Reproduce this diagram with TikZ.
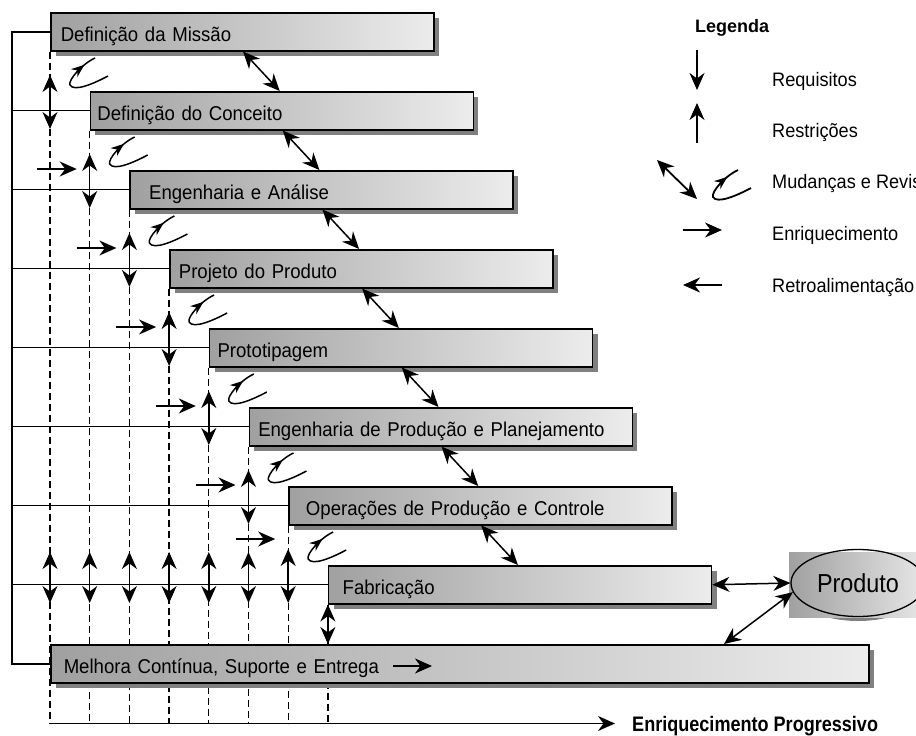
\documentclass[tikz,border=0pt]{standalone}
\usepackage{fontspec}
\setmainfont{Liberation Sans}
\newfontfamily\stagefont[FakeStretch=0.93]{Liberation Sans}
\newfontfamily\prodfont[FakeStretch=0.9]{Liberation Sans}
\newfontfamily\axisfont[FakeStretch=0.86]{Liberation Sans}
\usetikzlibrary{arrows.meta,shadows,decorations.markings,shapes.geometric}

\definecolor{boxdark}{RGB}{160,160,160}
\definecolor{boxlight}{RGB}{236,236,236}
\definecolor{shadowgray}{RGB}{128,128,128}

\pgfdeclarelayer{background}
\pgfsetlayers{background,main}

\tikzset{
  head/.tip={Stealth[length=17pt,width=15pt,inset=5.5pt]},
  stagebox/.style={draw, line width=1.5pt, anchor=north west, align=left,
    minimum height=38pt, inner ysep=0pt, text height=19pt, text depth=0pt,
    left color=boxdark, right color=boxlight,
    drop shadow={shadow xshift=5pt, shadow yshift=-5pt, fill=shadowgray, opacity=1},
    font=\stagefont\fontsize{20pt}{24pt}\selectfont},
  link/.style={line width=1.3pt},
  frame/.style={line width=1.8pt},
  guide/.style={line width=1.3pt, dash pattern=on 7pt off 4pt},
  dbl/.style={line width=1.5pt, head-head},
  fwd/.style={line width=1.5pt, -head},
  legarrow/.style={line width=1.8pt, -head},
  revision/.style={line width=1.5pt, postaction={decorate},
    decoration={markings, mark=at position 0.84 with {\arrow{Stealth[length=13pt,width=10pt,inset=4pt]}}}},
  legtext/.style={anchor=base west, inner sep=0pt, font=\stagefont\fontsize{19.5pt}{23pt}\selectfont},
}

\begin{document}
\begin{tikzpicture}[x=1pt, y=-1pt]
\useasboundingbox (0,0) rectangle (916,736);

% life-cycle stages, stepping down to the right
\node[stagebox, inner xsep=10pt, text width=363pt] (b0) at (50,12)    {Definição da Missão};
\node[stagebox, inner xsep=7pt,  text width=369pt] (b1) at (89.7,91)  {Definição do Conceito};
\node[stagebox, inner xsep=19pt, text width=345pt] (b2) at (129.4,170) {Engenharia e Análise};
\node[stagebox, inner xsep=9pt,  text width=365pt] (b3) at (169.1,249) {Projeto do Produto};
\node[stagebox, inner xsep=8pt,  text width=367pt] (b4) at (208.8,328) {Prototipagem};
\node[stagebox, inner xsep=9pt,  text width=365pt] (b5) at (248.5,407) {Engenharia de Produção e Planejamento};
\node[stagebox, inner xsep=17pt, text width=349pt] (b6) at (288.2,486) {Operações de Produção e Controle};
\node[stagebox, inner xsep=14pt, text width=355pt] (b7) at (327.9,565) {Fabricação};
\node[stagebox, inner xsep=13pt, text width=792pt] (b8) at (50,644)   {Melhora Contínua, Suporte e Entrega};

% feedback rail and the dashed enrichment guides behind the stages
\begin{pgfonlayer}{background}
  \coordinate (rail) at (12,0);
  \coordinate (flow0) at (50,723.5);
  \draw[frame] (b0.west) -- (b0.west -| rail) -- (b8.west -| rail) -- (b8.west);
  \foreach \i in {1,...,7} \draw[link] (b\i.west -| rail) -- (b\i.west);
  \foreach \i in {0,...,7} \draw[guide] (b\i.south west) -- (b\i.south west |- flow0);
\end{pgfonlayer}

% requirements / constraints at each following stage
\foreach \j in {0,...,6} {
  \pgfmathsetmacro\xx{50+39.7*\j}
  \pgfmathsetmacro\yy{12+79*(\j+1)}
  \draw[dbl] (\xx,\yy-16) -- (\xx,\yy+38);
}
\foreach \j in {0,...,5} {
  \pgfmathsetmacro\xx{50+39.7*\j}
  \draw[dbl] (\xx,552) -- (\xx,603);
}
\draw[dbl] (b7.south west) -- (b8.north west -| b7.south west);

% enrichment arrows
\foreach \i/\yy in {2/169,3/248,4/327,5/406,6/485,7/539} {
  \pgfmathsetmacro\xa{50+39.7*(\i-2)-13}
  \pgfmathsetmacro\xb{50+39.7*(\i-1)-13}
  \draw[fwd] (\xa,\yy) -- (\xb,\yy);
}

% changes and revisions
\foreach \i in {0,...,6} {
  \pgfmathsetmacro\ox{50+39.7*\i+18}
  \pgfmathsetmacro\oy{12+79*\i+46}
  \draw[revision, shift={(\ox,\oy)}] (40,18) .. controls (25,26) and (6,34) .. (2,27)
    .. controls (0,22) and (14,6) .. (27,0);
}
\foreach \i [evaluate=\i as \k using int(\i+1)] in {0,...,6}
  \draw[dbl] ([xshift=193pt]b\i.south west) -- ([xshift=190pt]b\k.north west);

% arrow inside the last stage
\coordinate (m0) at (393,666);
\coordinate (m1) at (432,666);
\draw[fwd] (m0) -- (m1);

% product
\fill[shadowgray] (858,588) ellipse (66 and 33);
\fill[left color=boxdark, right color=boxlight] (789,552) rectangle (935,617);
\node[ellipse, draw, line width=1.3pt, minimum width=134pt, minimum height=67pt,
  font=\prodfont\fontsize{26pt}{30pt}\selectfont] (prod) at (858,583) {Produto};
\draw[dbl] (b7.east) -- (prod.west);
\draw[dbl] ([xshift=674pt]b8.north west) -- (prod.188);

% progressive enrichment axis
\coordinate (flow1) at (615,723.5);
\draw[line width=1.6pt, -head] (flow0) -- (flow1);
\node[legtext, font=\axisfont\bfseries\fontsize{21pt}{25pt}\selectfont] (prog) at (632,731) {Enriquecimento Progressivo};

% legend
\node[legtext, font=\bfseries\fontsize{18pt}{21pt}\selectfont] (leg) at (695,32) {Legenda};
\coordinate (r0) at (697,50);  \coordinate (r1) at (697,90);
\draw[legarrow] (r0) -- (r1);
\node[legtext] (lreq) at (772,86) {Requisitos};
\coordinate (c0) at (697,143); \coordinate (c1) at (697,103);
\draw[legarrow] (c0) -- (c1);
\node[legtext] (lres) at (772,137) {Restrições};
\coordinate (d0) at (657,160); \coordinate (d1) at (697,199);
\draw[dbl, line width=1.8pt] (d0) -- (d1);
\draw[revision, line width=1.8pt, shift={(711,170)}] (40,18) .. controls (25,26) and (6,34) .. (2,27)
    .. controls (0,22) and (14,6) .. (27,0);
\node[legtext] (lmud) at (772,188) {Mudanças e Revisões};
\coordinate (e0) at (683,230); \coordinate (e1) at (722,230);
\draw[legarrow] (e0) -- (e1);
\node[legtext] (lenr) at (772,240) {Enriquecimento};
\coordinate (f0) at (722,285); \coordinate (f1) at (683,285);
\draw[legarrow] (f0) -- (f1);
\node[legtext] (lret) at (772,292) {Retroalimentação};
\end{tikzpicture}
\end{document}
